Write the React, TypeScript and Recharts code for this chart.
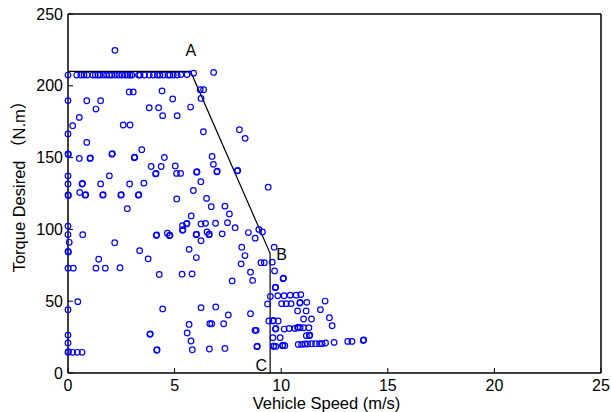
import React from "react";
import { ScatterChart, Scatter, XAxis, YAxis, ReferenceDot } from "recharts";

const FONT = "Arial, 'Liberation Sans', 'Noto Sans CJK SC', sans-serif";

const speedTicks = [0, 5, 10, 15, 20, 25];
const torqueTicks = [0, 50, 100, 150, 200, 250];

// envelope: max torque, power limited slope, max speed
const limitCurve = [
  { speed: 0, torque: 210 },
  { speed: 5.75, torque: 210 },
  { speed: 9.48, torque: 83.3 },
  { speed: 9.48, torque: 0 },
];

const cornerLabels = [
  { name: "A", speed: 5.76, torque: 225 },
  { name: "B", speed: 10.02, torque: 82.6 },
  { name: "C", speed: 9.06, torque: 5.3 },
];

// [speed m/s, torque N.m]
const zeroSpeed: [number, number][] = [
  [0, 207.5], [0, 189.7], [0, 166.5], [0, 152.6], [0.02, 152.2], [0, 137.3],
  [0, 131.7], [0, 124], [0.02, 123.6], [0, 102.3], [0, 96.4], [0.06, 91],
  [0, 84.6], [0.02, 84.2], [0, 73], [0, 44.1], [0, 26.4], [0, 20.9],
  [0, 14.4], [0.02, 14.8], [0.22, 14.4], [0.44, 14.4], [0.66, 14.4],
  [0.25, 73], [0.46, 49.7], [0.22, 172.2],
];

const topRow: [number, number][] = [
  [0.41, 207.5], [0.6, 207.5], [0.75, 207.5], [0.9, 207.5], [1.16, 207.5],
  [1.28, 207.5], [1.41, 207.5], [1.5, 207.5], [1.66, 207.5], [1.81, 207.5],
  [1.94, 207.5], [2.06, 207.5], [2.22, 207.5], [2.38, 207.5], [2.53, 207.5],
  [2.69, 207.5], [2.81, 207.5], [2.91, 207.5], [3.0, 207.5], [3.31, 207.5],
  [3.38, 207.5], [3.59, 207.5], [3.81, 207.5], [4.0, 207.5], [4.19, 207.5],
  [4.31, 207.5], [4.47, 207.5], [4.69, 207.5], [4.78, 207.5], [4.94, 207.5],
  [5.12, 207.5], [5.3, 207.8], [5.58, 207.8], [5.89, 208.8],
];

const upperCloud: [number, number][] = [
  [2.2, 224.7], [6.83, 209.3], [6.2, 197.3], [6.36, 197.3], [2.87, 195.7],
  [3.06, 195.7], [4.41, 196.4], [6.24, 191.2], [4.91, 190.8], [0.88, 189.6],
  [1.53, 189.6], [1.31, 183.8], [3.81, 184.7], [4.25, 184.7], [5.75, 185.2],
  [0.53, 178], [4.44, 179.2], [5.12, 179.2], [2.59, 172.7], [2.91, 172.7],
  [8.04, 169.4], [8.31, 163.4], [6.35, 168], [0.88, 160.6], [2.06, 152.4],
  [2.08, 152.8], [3.46, 155.5], [3.11, 149.9], [3.13, 150.3], [1.03, 149.4],
  [1.05, 149.8], [0.53, 149.4], [4.52, 150.1], [6.76, 150.8], [6.82, 145.3],
  [3.9, 143.8], [4.37, 143.8], [5.03, 144.2], [7.94, 140.7], [7.96, 141.1],
  [4.11, 138.6], [4.13, 139], [5.09, 139], [5.28, 139], [6.03, 139.8],
  [6.05, 140.2], [6.98, 140.1], [7.0, 140.5], [1.94, 137.3], [6.23, 133.2],
  [0.66, 131.6], [0.68, 132], [1.53, 131.7], [2.89, 131.6], [3.56, 132.2],
  [9.39, 129.4], [5.88, 127.1], [0.55, 125.7], [0.81, 123.8], [0.83, 124.2],
  [1.63, 123.8], [1.65, 124.2], [2.48, 123.8], [2.5, 124.2], [3.3, 123.8],
  [3.32, 124.2],
];

const middleCloud: [number, number][] = [
  [5.1, 121.2], [6.5, 121.6], [2.78, 114.4], [6.72, 115.8], [7.36, 116.2],
  [7.57, 110.8], [5.78, 109.4], [5.56, 103.8], [5.58, 104.2], [5.37, 102.6],
  [6.24, 103.8], [6.45, 104.2], [6.92, 104.3], [7.48, 104.7], [7.84, 101.2],
  [5.37, 99.4], [5.39, 99.8], [0.69, 96.3], [4.14, 95.8], [4.16, 96.2],
  [4.66, 97.4], [4.76, 95.6], [4.78, 96], [6.01, 96.3], [6.03, 96.7],
  [6.52, 98.2], [6.61, 96.3], [6.63, 96.7], [7.23, 96.9], [8.46, 97.8],
  [8.95, 100], [9.12, 98.2], [8.78, 93.9], [6.24, 92.1], [2.19, 90.7],
  [3.36, 85.2], [5.68, 86.1], [8.15, 87.6], [9.67, 87.6], [8.3, 81.8],
  [6.02, 80.4], [3.76, 79.5], [1.44, 79.2], [8.12, 76], [9.05, 76.8],
  [9.21, 76.8], [9.58, 77.2], [1.31, 73], [1.75, 73], [2.44, 73.3],
  [8.56, 70.2], [9.69, 71.1], [4.28, 68.6], [5.35, 68.8], [5.82, 69],
  [10.09, 65.7], [10.11, 66.1], [7.7, 64.1], [8.66, 64.5], [9.72, 59.4],
  [9.74, 59.8], [9.49, 53.3], [9.84, 53.8], [10.14, 53.8], [10.42, 54.2],
  [10.7, 54.2], [10.92, 54.6],
];

const lowerCloud: [number, number][] = [
  [9.36, 48.1], [10.02, 48.3], [10.24, 48.3], [10.46, 48.3], [10.87, 48.7],
  [10.89, 49.1], [11.2, 49.2], [12.06, 50.1], [4.44, 44.6], [6.24, 45.5],
  [6.93, 46], [10.77, 43.2], [11.17, 43.2], [11.84, 44.1], [7.52, 40.4],
  [8.56, 41.3], [12.26, 38.5], [11.05, 37.6], [11.42, 37.6], [5.68, 33.8],
  [6.65, 34.3], [6.74, 34.3], [7.3, 34.3], [9.42, 36.2], [9.61, 36.2],
  [9.63, 36.6], [9.86, 36.2], [12.39, 32.9], [3.84, 26.9], [3.86, 27.3],
  [5.59, 27.9], [8.77, 29.7], [8.83, 29.7], [9.73, 30.6], [9.75, 31],
  [10.14, 30.6], [10.37, 31], [10.64, 31], [10.77, 31.5], [10.79, 31.9],
  [10.89, 31.5], [11.05, 31.5], [11.3, 31.5], [9.61, 24.6], [9.95, 24.6],
  [11.18, 26], [11.32, 26], [11.34, 26.4], [5.77, 22.3], [5.83, 16.2],
  [6.63, 16.7], [7.36, 17.1], [8.86, 18.3], [8.88, 18.7], [9.64, 18.5],
  [9.66, 18.9], [9.75, 18.5], [10.06, 19], [10.08, 19.4], [10.17, 19],
  [10.8, 19.9], [10.96, 19.9], [11.11, 20.2], [11.24, 20.2], [11.42, 20.4],
  [11.61, 20.4], [11.8, 20.4], [11.92, 20.4], [12.08, 20.9], [12.48, 21.3],
  [13.12, 22], [13.32, 22], [13.85, 22.7], [13.87, 23.1], [4.16, 15.8],
  [4.18, 16.2],
];

const samples = [...zeroSpeed, ...topRow, ...upperCloud, ...middleCloud, ...lowerCloud].map(
  ([speed, torque]) => ({ speed, torque })
);

const Ring = (props: any) => (
  <circle cx={props.cx} cy={props.cy} r={2.8} fill="none" stroke="#0000ff" strokeWidth={1.2} />
);

const XTitle = (props: any) => {
  const vb = props.viewBox || { x: 68, y: 373, width: 533 };
  return (
    <text x={vb.x + vb.width / 2 - 8} y={vb.y + 36} textAnchor="middle" fontSize={16.5} fontFamily={FONT} fill="#000">
      Vehicle Speed (m/s)
    </text>
  );
};

const YTitle = (props: any) => {
  const vb = props.viewBox || { x: 0, y: 14, height: 359 };
  const cx = vb.x + 25;
  const cy = vb.y + vb.height / 2 - 11;
  return (
    <text x={cx} y={cy} transform={`rotate(-90, ${cx}, ${cy})`} textAnchor="middle" fontSize={16.5} fontFamily={FONT} fill="#000">
      Torque Desired （N.m）
    </text>
  );
};

const axisLine = { stroke: "#000", strokeWidth: 1.5 };
const tickLine = { stroke: "#000", strokeWidth: 1 };
const tickText = { fill: "#000", fontSize: 16, fontFamily: FONT };

export default function App() {
  return (
    <div style={{ position: "absolute", left: 0, top: 0, width: 611, height: 412, background: "#fff" }}>
      <ScatterChart width={611} height={412} margin={{ top: 14, right: 10, bottom: 0, left: 0 }}>
        <XAxis
          type="number"
          dataKey="speed"
          domain={[0, 25]}
          ticks={speedTicks}
          height={39}
          tickSize={-5}
          tickMargin={12}
          axisLine={axisLine}
          tickLine={tickLine}
          tick={tickText}
          label={{ content: XTitle }}
        />
        <XAxis
          xAxisId="top"
          orientation="top"
          mirror
          type="number"
          domain={[0, 25]}
          ticks={speedTicks}
          tickSize={5}
          tick={false}
          axisLine={axisLine}
          tickLine={tickLine}
        />
        <YAxis
          type="number"
          dataKey="torque"
          domain={[0, 250]}
          ticks={torqueTicks}
          width={68}
          tickSize={-5}
          tickMargin={10}
          axisLine={axisLine}
          tickLine={tickLine}
          tick={tickText}
          label={{ content: YTitle }}
        />
        <YAxis
          yAxisId="right"
          orientation="right"
          mirror
          type="number"
          domain={[0, 250]}
          ticks={torqueTicks}
          tickSize={5}
          tick={false}
          axisLine={axisLine}
          tickLine={tickLine}
        />
        <Scatter
          data={limitCurve}
          line={{ stroke: "#000", strokeWidth: 1.2 }}
          shape={() => <g />}
          isAnimationActive={false}
        />
        <Scatter data={samples} shape={Ring} isAnimationActive={false} />
        {cornerLabels.map((c) => (
          <ReferenceDot
            key={c.name}
            x={c.speed}
            y={c.torque}
            r={0}
            fill="none"
            stroke="none"
            label={{ value: c.name, position: "center", fill: "#000", fontSize: 16, fontFamily: FONT }}
          />
        ))}
      </ScatterChart>
    </div>
  );
}
